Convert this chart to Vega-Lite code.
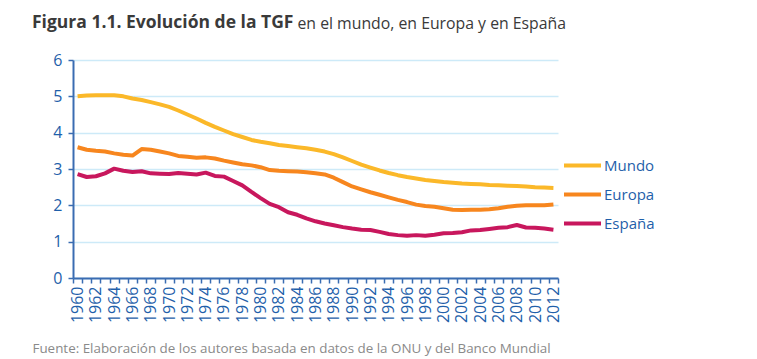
{
  "$schema": "https://vega.github.io/schema/vega-lite/v6.json",
  "autosize": {"type": "none"},
  "width": 485,
  "height": 218,
  "padding": {"left": 73, "top": 60, "right": 199, "bottom": 81},
  "background": "white",
  "title": {
    "text": "Figura 1.1. Evolución de la TGF",
    "anchor": "start",
    "frame": "group",
    "orient": "top",
    "dx": -41,
    "offset": -16,
    "font": "Open Sans",
    "fontSize": 17.5,
    "fontWeight": "bold",
    "color": "#3a3a3a"
  },
  "config": {
    "view": {"stroke": null},
    "font": "Open Sans"
  },
  "data": {
    "values": [
      {"year": 1960, "serie": "Mundo", "tgf": 5.00}, {"year": 1961, "serie": "Mundo", "tgf": 5.02}, {"year": 1962, "serie": "Mundo", "tgf": 5.03}, {"year": 1963, "serie": "Mundo", "tgf": 5.03}, {"year": 1964, "serie": "Mundo", "tgf": 5.03}, {"year": 1965, "serie": "Mundo", "tgf": 5.00}, {"year": 1966, "serie": "Mundo", "tgf": 4.94}, {"year": 1967, "serie": "Mundo", "tgf": 4.90}, {"year": 1968, "serie": "Mundo", "tgf": 4.84}, {"year": 1969, "serie": "Mundo", "tgf": 4.78}, {"year": 1970, "serie": "Mundo", "tgf": 4.71}, {"year": 1971, "serie": "Mundo", "tgf": 4.61}, {"year": 1972, "serie": "Mundo", "tgf": 4.50}, {"year": 1973, "serie": "Mundo", "tgf": 4.39}, {"year": 1974, "serie": "Mundo", "tgf": 4.27}, {"year": 1975, "serie": "Mundo", "tgf": 4.16}, {"year": 1976, "serie": "Mundo", "tgf": 4.06}, {"year": 1977, "serie": "Mundo", "tgf": 3.96}, {"year": 1978, "serie": "Mundo", "tgf": 3.88}, {"year": 1979, "serie": "Mundo", "tgf": 3.80}, {"year": 1980, "serie": "Mundo", "tgf": 3.75}, {"year": 1981, "serie": "Mundo", "tgf": 3.71}, {"year": 1982, "serie": "Mundo", "tgf": 3.66}, {"year": 1983, "serie": "Mundo", "tgf": 3.63}, {"year": 1984, "serie": "Mundo", "tgf": 3.60}, {"year": 1985, "serie": "Mundo", "tgf": 3.57}, {"year": 1986, "serie": "Mundo", "tgf": 3.53}, {"year": 1987, "serie": "Mundo", "tgf": 3.48}, {"year": 1988, "serie": "Mundo", "tgf": 3.41}, {"year": 1989, "serie": "Mundo", "tgf": 3.32}, {"year": 1990, "serie": "Mundo", "tgf": 3.22}, {"year": 1991, "serie": "Mundo", "tgf": 3.12}, {"year": 1992, "serie": "Mundo", "tgf": 3.04}, {"year": 1993, "serie": "Mundo", "tgf": 2.96}, {"year": 1994, "serie": "Mundo", "tgf": 2.89}, {"year": 1995, "serie": "Mundo", "tgf": 2.83}, {"year": 1996, "serie": "Mundo", "tgf": 2.78}, {"year": 1997, "serie": "Mundo", "tgf": 2.74}, {"year": 1998, "serie": "Mundo", "tgf": 2.70}, {"year": 1999, "serie": "Mundo", "tgf": 2.67}, {"year": 2000, "serie": "Mundo", "tgf": 2.64}, {"year": 2001, "serie": "Mundo", "tgf": 2.62}, {"year": 2002, "serie": "Mundo", "tgf": 2.60}, {"year": 2003, "serie": "Mundo", "tgf": 2.59}, {"year": 2004, "serie": "Mundo", "tgf": 2.58}, {"year": 2005, "serie": "Mundo", "tgf": 2.56}, {"year": 2006, "serie": "Mundo", "tgf": 2.55}, {"year": 2007, "serie": "Mundo", "tgf": 2.54}, {"year": 2008, "serie": "Mundo", "tgf": 2.53}, {"year": 2009, "serie": "Mundo", "tgf": 2.52}, {"year": 2010, "serie": "Mundo", "tgf": 2.50}, {"year": 2011, "serie": "Mundo", "tgf": 2.49}, {"year": 2012, "serie": "Mundo", "tgf": 2.48},
      {"year": 1960, "serie": "Europa", "tgf": 3.60}, {"year": 1961, "serie": "Europa", "tgf": 3.53}, {"year": 1962, "serie": "Europa", "tgf": 3.50}, {"year": 1963, "serie": "Europa", "tgf": 3.48}, {"year": 1964, "serie": "Europa", "tgf": 3.43}, {"year": 1965, "serie": "Europa", "tgf": 3.39}, {"year": 1966, "serie": "Europa", "tgf": 3.37}, {"year": 1967, "serie": "Europa", "tgf": 3.55}, {"year": 1968, "serie": "Europa", "tgf": 3.53}, {"year": 1969, "serie": "Europa", "tgf": 3.48}, {"year": 1970, "serie": "Europa", "tgf": 3.43}, {"year": 1971, "serie": "Europa", "tgf": 3.36}, {"year": 1972, "serie": "Europa", "tgf": 3.34}, {"year": 1973, "serie": "Europa", "tgf": 3.31}, {"year": 1974, "serie": "Europa", "tgf": 3.32}, {"year": 1975, "serie": "Europa", "tgf": 3.29}, {"year": 1976, "serie": "Europa", "tgf": 3.23}, {"year": 1977, "serie": "Europa", "tgf": 3.18}, {"year": 1978, "serie": "Europa", "tgf": 3.13}, {"year": 1979, "serie": "Europa", "tgf": 3.10}, {"year": 1980, "serie": "Europa", "tgf": 3.05}, {"year": 1981, "serie": "Europa", "tgf": 2.97}, {"year": 1982, "serie": "Europa", "tgf": 2.95}, {"year": 1983, "serie": "Europa", "tgf": 2.94}, {"year": 1984, "serie": "Europa", "tgf": 2.93}, {"year": 1985, "serie": "Europa", "tgf": 2.91}, {"year": 1986, "serie": "Europa", "tgf": 2.88}, {"year": 1987, "serie": "Europa", "tgf": 2.85}, {"year": 1988, "serie": "Europa", "tgf": 2.76}, {"year": 1989, "serie": "Europa", "tgf": 2.64}, {"year": 1990, "serie": "Europa", "tgf": 2.52}, {"year": 1991, "serie": "Europa", "tgf": 2.44}, {"year": 1992, "serie": "Europa", "tgf": 2.36}, {"year": 1993, "serie": "Europa", "tgf": 2.29}, {"year": 1994, "serie": "Europa", "tgf": 2.22}, {"year": 1995, "serie": "Europa", "tgf": 2.15}, {"year": 1996, "serie": "Europa", "tgf": 2.09}, {"year": 1997, "serie": "Europa", "tgf": 2.02}, {"year": 1998, "serie": "Europa", "tgf": 1.98}, {"year": 1999, "serie": "Europa", "tgf": 1.96}, {"year": 2000, "serie": "Europa", "tgf": 1.92}, {"year": 2001, "serie": "Europa", "tgf": 1.88}, {"year": 2002, "serie": "Europa", "tgf": 1.87}, {"year": 2003, "serie": "Europa", "tgf": 1.88}, {"year": 2004, "serie": "Europa", "tgf": 1.88}, {"year": 2005, "serie": "Europa", "tgf": 1.89}, {"year": 2006, "serie": "Europa", "tgf": 1.92}, {"year": 2007, "serie": "Europa", "tgf": 1.96}, {"year": 2008, "serie": "Europa", "tgf": 1.99}, {"year": 2009, "serie": "Europa", "tgf": 2.00}, {"year": 2010, "serie": "Europa", "tgf": 2.00}, {"year": 2011, "serie": "Europa", "tgf": 2.00}, {"year": 2012, "serie": "Europa", "tgf": 2.02},
      {"year": 1960, "serie": "España", "tgf": 2.86}, {"year": 1961, "serie": "España", "tgf": 2.78}, {"year": 1962, "serie": "España", "tgf": 2.80}, {"year": 1963, "serie": "España", "tgf": 2.88}, {"year": 1964, "serie": "España", "tgf": 3.01}, {"year": 1965, "serie": "España", "tgf": 2.95}, {"year": 1966, "serie": "España", "tgf": 2.92}, {"year": 1967, "serie": "España", "tgf": 2.94}, {"year": 1968, "serie": "España", "tgf": 2.88}, {"year": 1969, "serie": "España", "tgf": 2.87}, {"year": 1970, "serie": "España", "tgf": 2.86}, {"year": 1971, "serie": "España", "tgf": 2.89}, {"year": 1972, "serie": "España", "tgf": 2.87}, {"year": 1973, "serie": "España", "tgf": 2.85}, {"year": 1974, "serie": "España", "tgf": 2.90}, {"year": 1975, "serie": "España", "tgf": 2.81}, {"year": 1976, "serie": "España", "tgf": 2.79}, {"year": 1977, "serie": "España", "tgf": 2.67}, {"year": 1978, "serie": "España", "tgf": 2.55}, {"year": 1979, "serie": "España", "tgf": 2.37}, {"year": 1980, "serie": "España", "tgf": 2.20}, {"year": 1981, "serie": "España", "tgf": 2.04}, {"year": 1982, "serie": "España", "tgf": 1.95}, {"year": 1983, "serie": "España", "tgf": 1.81}, {"year": 1984, "serie": "España", "tgf": 1.74}, {"year": 1985, "serie": "España", "tgf": 1.64}, {"year": 1986, "serie": "España", "tgf": 1.56}, {"year": 1987, "serie": "España", "tgf": 1.50}, {"year": 1988, "serie": "España", "tgf": 1.45}, {"year": 1989, "serie": "España", "tgf": 1.40}, {"year": 1990, "serie": "España", "tgf": 1.36}, {"year": 1991, "serie": "España", "tgf": 1.33}, {"year": 1992, "serie": "España", "tgf": 1.32}, {"year": 1993, "serie": "España", "tgf": 1.27}, {"year": 1994, "serie": "España", "tgf": 1.21}, {"year": 1995, "serie": "España", "tgf": 1.18}, {"year": 1996, "serie": "España", "tgf": 1.16}, {"year": 1997, "serie": "España", "tgf": 1.18}, {"year": 1998, "serie": "España", "tgf": 1.16}, {"year": 1999, "serie": "España", "tgf": 1.19}, {"year": 2000, "serie": "España", "tgf": 1.23}, {"year": 2001, "serie": "España", "tgf": 1.24}, {"year": 2002, "serie": "España", "tgf": 1.26}, {"year": 2003, "serie": "España", "tgf": 1.31}, {"year": 2004, "serie": "España", "tgf": 1.32}, {"year": 2005, "serie": "España", "tgf": 1.35}, {"year": 2006, "serie": "España", "tgf": 1.38}, {"year": 2007, "serie": "España", "tgf": 1.40}, {"year": 2008, "serie": "España", "tgf": 1.46}, {"year": 2009, "serie": "España", "tgf": 1.39}, {"year": 2010, "serie": "España", "tgf": 1.38}, {"year": 2011, "serie": "España", "tgf": 1.36}, {"year": 2012, "serie": "España", "tgf": 1.33}
    ]
  },
  "mark": {"type": "line", "strokeWidth": 4, "strokeJoin": "round", "strokeCap": "butt"},
  "encoding": {
    "x": {
      "field": "year",
      "type": "ordinal",
      "bandPosition": 0.5,
      "scale": {"type": "band", "paddingInner": 0, "paddingOuter": 0},
      "axis": {
        "tickBand": "extent",
        "labelAngle": -90,
        "labelAlign": "right",
        "labelBaseline": "middle",
        "labelExpr": "datum.value % 2 == 0 ? datum.label : ''",
        "labelFont": "Open Sans",
        "labelFontSize": 16,
        "labelColor": "#1f5faa",
        "labelPadding": 3,
        "domainColor": "#3a6cb2",
        "domainWidth": 2,
        "tickColor": "#3a6cb2",
        "tickWidth": 1.5,
        "tickSize": 5,
        "grid": false,
        "title": "Fuente: Elaboración de los autores basada en datos de la ONU y del Banco Mundial",
        "titleFont": "Open Sans",
        "titleFontSize": 13.4,
        "titleFontWeight": "normal",
        "titleColor": "#8a8a8a",
        "titleAnchor": "start",
        "titleAlign": "left",
        "titleBaseline": "alphabetic",
        "titleX": -41,
        "titleY": 74
      }
    },
    "y": {
      "field": "tgf",
      "type": "quantitative",
      "scale": {"domain": [0, 6], "nice": false, "zero": true},
      "axis": {
        "values": [0, 1, 2, 3, 4, 5, 6],
        "labelFont": "Open Sans",
        "labelFontSize": 16,
        "labelColor": "#1f5faa",
        "labelPadding": 6,
        "domainColor": "#3a6cb2",
        "domainWidth": 2,
        "tickColor": "#3a6cb2",
        "tickWidth": 1.5,
        "tickSize": 5,
        "grid": true,
        "gridColor": "#cdeaf8",
        "gridWidth": 1.5,
        "title": "en el mundo, en Europa y en España",
        "titleFont": "Open Sans",
        "titleFontSize": 15.8,
        "titleFontWeight": "normal",
        "titleColor": "#3a3a3a",
        "titleAngle": 0,
        "titleAlign": "left",
        "titleBaseline": "alphabetic",
        "titleAnchor": "start",
        "titleX": 224,
        "titleY": -32
      }
    },
    "color": {
      "field": "serie",
      "type": "nominal",
      "sort": ["Mundo", "Europa", "España"],
      "scale": {"domain": ["Mundo", "Europa", "España"], "range": ["#fbb829", "#f7861e", "#c8175d"]},
      "legend": {
        "orient": "none",
        "legendX": 489,
        "legendY": 85,
        "title": null,
        "symbolType": "stroke",
        "symbolSize": 1369,
        "symbolStrokeWidth": 4,
        "rowPadding": -1,
        "labelFont": "Open Sans",
        "labelFontSize": 15,
        "labelColor": "#1f5faa",
        "labelOffset": 1
      }
    }
  }
}
